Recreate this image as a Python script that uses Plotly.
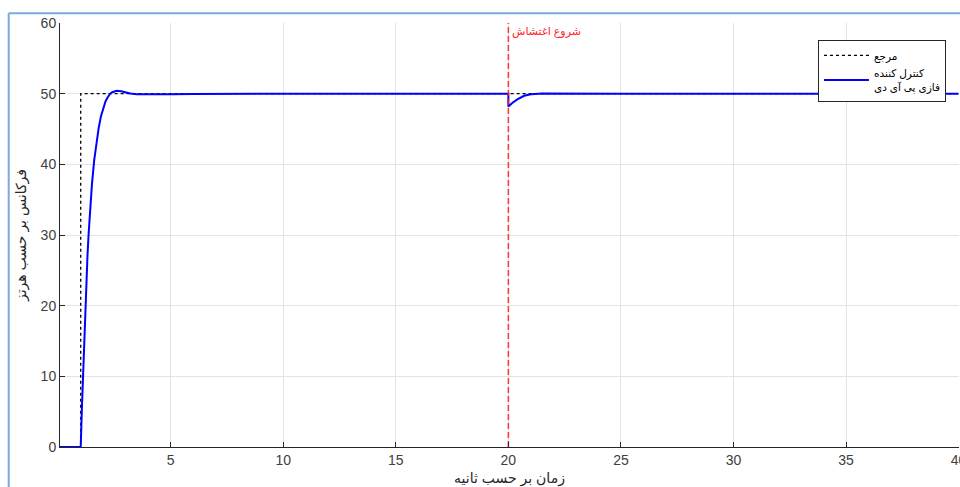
import plotly.graph_objects as go

# ---- data ----
ref_t = [0.08, 1.0, 1.0, 40.0]
ref_y = [0, 0, 50, 50]

resp_t = [0.08, 1.0, 1.05, 1.1, 1.15, 1.2, 1.25, 1.3, 1.35, 1.4, 1.5, 1.6, 1.7, 1.8, 1.9,
          2.0, 2.1, 2.2, 2.3, 2.4, 2.5, 2.6, 2.8, 3.0, 3.2, 3.5, 4.0, 5.0, 6.0, 8.0,
          10.0, 20.0, 20.0, 20.2, 20.4, 20.7, 21.0, 21.5, 22.5, 25.0, 40.0]
resp_y = [0, 0, 5.2, 10.2, 15.0, 19.4, 23.4, 27.0, 30.1, 32.8, 37.2, 40.6, 43.2, 45.2, 46.8,
          48.0, 48.9, 49.5, 49.95, 50.2, 50.35, 50.4, 50.35, 50.2, 50.02, 49.93, 49.9, 49.92, 49.96, 49.99,
          50, 50, 48.2, 48.75, 49.2, 49.7, 49.93, 50.03, 50.05, 50.0, 50.0]

disturbance_t = [20, 20]
disturbance_y = [0, 60]
disturbance_label = "شروع اغتشاش"

ref_name = "مرجع"
ctrl_name = "کنترل کننده<br>فازی پی آی دی"
x_title = "زمان بر حسب ثانیه"
y_title = "فرکانس بر حسب هرتز"

x_range = [0.08, 40.02]
y_range = [0, 60]
x_ticks = [5, 10, 15, 20, 25, 30, 35, 40]
y_ticks = [0, 10, 20, 30, 40, 50, 60]

FONT = "Arial, 'Liberation Sans', 'DejaVu Sans', sans-serif"

fig = go.Figure()
fig.add_trace(go.Scatter(x=ref_t, y=ref_y, mode="lines", name=ref_name,
                         line=dict(color="black", width=1.3, dash="3px,3px")))
fig.add_trace(go.Scatter(x=resp_t, y=resp_y, mode="lines", name=ctrl_name,
                         line=dict(color="#0000ff", width=2)))
fig.add_trace(go.Scatter(x=disturbance_t, y=disturbance_y, mode="lines", showlegend=False,
                         line=dict(color="rgba(255,30,30,0.85)", width=1.6, dash="6px,3px")))

fig.add_annotation(x=disturbance_t[0], y=58.8, text=disturbance_label, showarrow=False,
                   xanchor="left", yanchor="middle", xshift=2,
                   font=dict(color="#ff2020", size=11, family=FONT))

axis_common = dict(showgrid=True, gridcolor="#e3e3e3", gridwidth=1,
                   showline=True, linecolor="#262626", linewidth=1,
                   ticks="inside", ticklen=5, tickcolor="#262626",
                   tickfont=dict(size=14, color="#404040", family=FONT),
                   ticklabeloverflow="allow", automargin=False,
                   zeroline=False, mirror=False)

fig.update_xaxes(range=x_range, tickvals=x_ticks, **axis_common,
                 title=dict(text=x_title, font=dict(size=14, color="#262626", family=FONT), standoff=6))
fig.update_yaxes(range=y_range, tickvals=y_ticks, **axis_common,
                 title=dict(text=y_title, font=dict(size=14, color="#262626", family=FONT), standoff=10))

# window frame (light blue) around the figure
frame_x0 = (8.7 - 60) / 899
frame_y1 = 1 + (23 - 13.3) / 424
fig.add_shape(type="line", xref="paper", yref="paper", x0=frame_x0, x1=frame_x0,
              y0=-0.3, y1=frame_y1, line=dict(color="#7aaad8", width=2))
fig.add_shape(type="line", xref="paper", yref="paper", x0=frame_x0, x1=1.2,
              y0=frame_y1, y1=frame_y1, line=dict(color="#7aaad8", width=2))

fig.update_layout(
    width=960, height=487,
    margin=dict(l=60, r=1, t=23, b=40),
    paper_bgcolor="white", plot_bgcolor="white",
    font=dict(family=FONT, color="#262626"),
    legend=dict(x=0.9855, y=0.96, xanchor="right", yanchor="top",
                bgcolor="white", bordercolor="#262626", borderwidth=1,
                font=dict(size=10.5, family=FONT, color="black"),
                tracegroupgap=0, itemwidth=45),
)

fig.write_html("out.html")
